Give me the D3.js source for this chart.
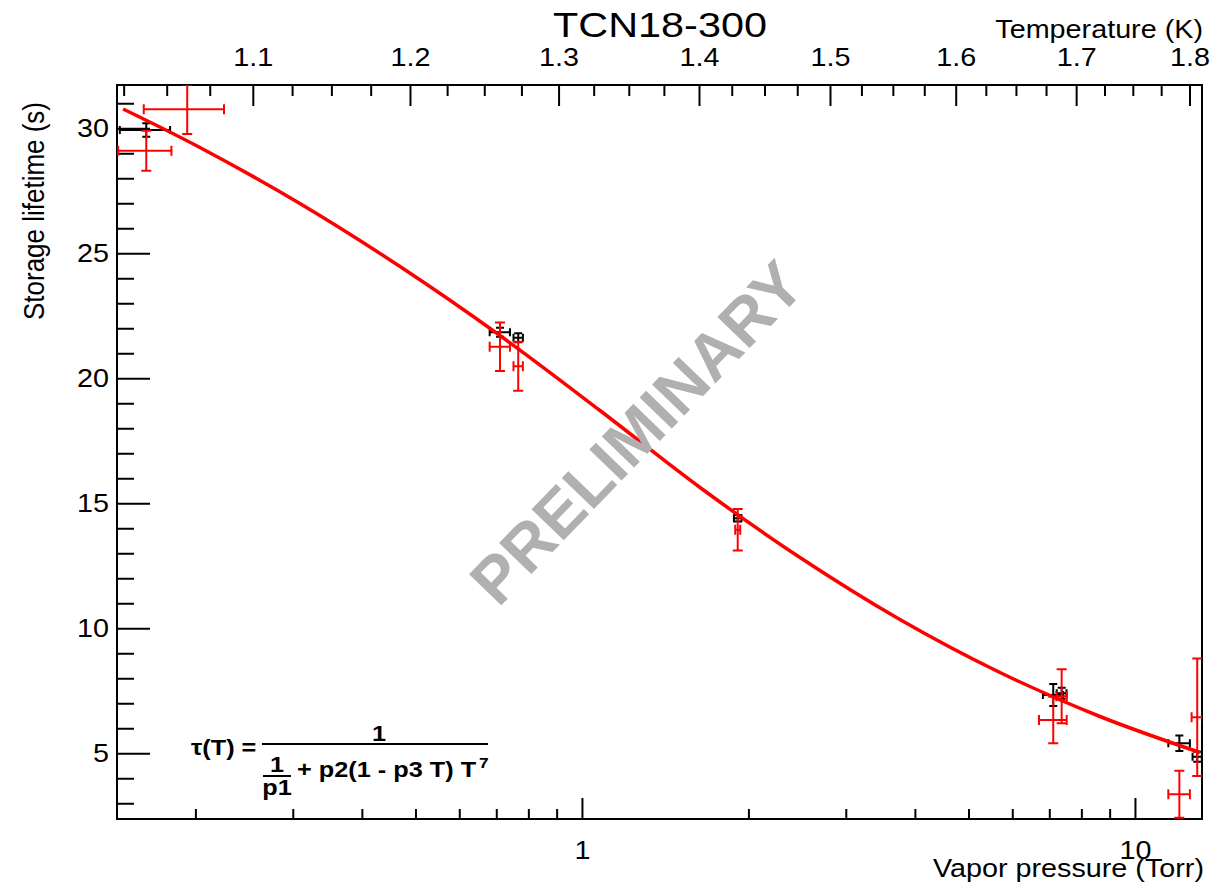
<!DOCTYPE html>
<html>
<head>
<meta charset="utf-8">
<script src="https://cdn.jsdelivr.net/npm/d3@7"></script>
<style>
body { margin: 0; background: #fff; }
text { font-family: "Liberation Sans", Arial, Helvetica, sans-serif; }
</style>
</head>
<body>
<svg id="chart" width="1232" height="885"></svg>
<script>
// constants
var margin = { top: 85, right: 30, bottom: 66, left: 117 },
    width = 1232 - margin.left - margin.right,
    height = 885 - margin.top - margin.bottom;
var stretch = 1.15;   // the text in the original is drawn a bit wide

// axis ticks
var pressureMajor = [1, 10];
var pressureMinor = [0.2, 0.3, 0.4, 0.5, 0.6, 0.7, 0.8, 0.9, 2, 3, 4, 5, 6, 7, 8, 9];
var tauMajor = [5, 10, 15, 20, 25, 30];
var tauMinor = [3, 4, 6, 7, 8, 9, 11, 12, 13, 14, 16, 17, 18, 19, 21, 22, 23, 24, 26, 27, 28, 29, 31];

// temperature axis: vapor pressure (Torr) read at each temperature tick
var tempTicks = [1.0, 1.1, 1.2, 1.3, 1.4, 1.5, 1.6, 1.7, 1.8];
var tempTorr = [0.124, 0.254, 0.4887, 0.9073, 1.628, 2.809, 4.741, 7.828, 12.55];
var tempMajor = [1.1, 1.2, 1.3, 1.4, 1.5, 1.6, 1.7, 1.8];
var tempMinor = [1.025, 1.05, 1.075, 1.125, 1.15, 1.175, 1.225, 1.25, 1.275,
                 1.325, 1.35, 1.375, 1.425, 1.45, 1.475, 1.525, 1.55, 1.575,
                 1.625, 1.65, 1.675, 1.725, 1.75, 1.775];

// black points
var blackP      = [0.163, 0.711, 0.767, 1.913, 7.116, 7.37, 12.03, 12.96];
var blackPErr   = [0.017, 0.03, 0.015, 0.03, 0.3, 0.15, 0.54, 0.25];
var blackTau    = [29.93, 21.84, 21.62, 14.40, 7.33, 7.40, 5.40, 4.86];
var blackTauErr = [0.27, 0.18, 0.18, 0.13, 0.44, 0.22, 0.31, 0.20];

// red points
var redP      = [0.163, 0.1933, 0.711, 0.767, 1.913, 7.116, 7.37, 12.03, 12.96];
var redPErr   = [0.018, 0.032, 0.03, 0.015, 0.02, 0.41, 0.16, 0.54, 0.3];
var redTau    = [29.10, 30.76, 21.26, 20.48, 13.94, 6.33, 7.28, 3.36, 6.44];
var redTauErr = [0.80, 0.99, 0.97, 0.98, 0.83, 0.93, 1.08, 0.94, 2.35];

// fit curve
var fitP   = [0.148, 0.2038, 0.309, 0.4688, 0.7108, 1.078, 1.635, 2.479, 3.758, 5.70, 8.644, 13.11];
var fitTau = [30.77, 29.23, 26.99, 24.47, 21.71, 18.71, 15.63, 12.83, 10.35, 8.23, 6.47, 5.03];

// scales
var x = d3.scaleLog()
    .domain([0.1443, 13.22])
    .range([0, width]);

var y = d3.scaleLinear()
    .domain([2.37, 31.73])
    .range([height, 0]);

var t = d3.scaleLinear()
    .domain(tempTicks)
    .range(tempTorr.map(function (p) { return x(p); }));

var svg = d3.select("#chart");
var g = svg.append("g")
    .attr("transform", "translate(" + margin.left + "," + margin.top + ")");

g.append("clipPath").attr("id", "clip")
    .append("rect").attr("width", width).attr("height", height);

// axes
function styleAxis(sel) {
    sel.select(".domain").remove();
    sel.selectAll("line").attr("stroke", "#000").attr("stroke-width", 2);
    sel.attr("font-size", 25);
    sel.selectAll("text")
        .attr("fill", "#000")
        .attr("transform", "scale(" + stretch + ",1)");
}

g.append("g")
    .attr("transform", "translate(0," + height + ")")
    .call(d3.axisBottom(x).tickValues(pressureMajor).tickSize(-21).tickPadding(22).tickFormat(d3.format("d")))
    .call(styleAxis);
g.append("g")
    .attr("transform", "translate(0," + height + ")")
    .call(d3.axisBottom(x).tickValues(pressureMinor).tickSize(-10).tickFormat(""))
    .call(styleAxis);

g.append("g")
    .call(d3.axisLeft(y).tickValues(tauMajor).tickSize(-33).tickPadding(7))
    .call(styleAxis);
g.append("g")
    .call(d3.axisLeft(y).tickValues(tauMinor).tickSize(-17).tickFormat(""))
    .call(styleAxis);

g.append("g")
    .call(d3.axisTop(t).tickValues(tempMajor).tickSize(-21).tickPadding(19).tickFormat(d3.format(".1f")))
    .call(styleAxis);
g.append("g")
    .call(d3.axisTop(t).tickValues(tempMinor).tickSize(-11).tickFormat(""))
    .call(styleAxis);

// frame
g.append("rect")
    .attr("width", width)
    .attr("height", height)
    .attr("fill", "none")
    .attr("stroke", "#000")
    .attr("stroke-width", 2);

// labels
function label(sel, px, py, txt, size, anchor) {
    return sel.append("text")
        .attr("transform", "translate(" + px + "," + py + ") scale(" + stretch + ",1)")
        .attr("text-anchor", anchor || "start")
        .style("font-size", size + "px")
        .text(txt);
}

label(svg, 660, 37, "TCN18-300", 36, "middle");
label(svg, 1203, 38, "Temperature (K)", 25, "end");
label(svg, 1204, 877, "Vapor pressure (Torr)", 25, "end");

svg.append("text")
    .attr("transform", "translate(44,211) scale(" + stretch + ",1) rotate(-90)")
    .attr("text-anchor", "middle")
    .style("font-size", "26px")
    .text("Storage lifetime (s)");

// watermark
svg.append("text")
    .attr("transform", "translate(636,432) rotate(-46)")
    .attr("text-anchor", "middle")
    .attr("dy", "0.36em")
    .attr("fill", "#b0b0b0")
    .style("font-size", "65px")
    .style("font-weight", "bold")
    .text("PRELIMINARY");

// points with error bars
var plot = g.append("g").attr("clip-path", "url(#clip)");

function drawPoints(P, PErr, tau, tauErr, color, cap) {
    var pts = plot.append("g")
        .attr("stroke", color)
        .attr("stroke-width", 2)
        .selectAll("g")
        .data(P)
        .enter()
        .append("g");

    pts.append("line")
        .attr("x1", function (d, i) { return x(P[i]); })
        .attr("x2", function (d, i) { return x(P[i]); })
        .attr("y1", function (d, i) { return y(tau[i] - tauErr[i]); })
        .attr("y2", function (d, i) { return y(tau[i] + tauErr[i]); });
    pts.append("line")
        .attr("x1", function (d, i) { return x(P[i] - PErr[i]); })
        .attr("x2", function (d, i) { return x(P[i] + PErr[i]); })
        .attr("y1", function (d, i) { return y(tau[i]); })
        .attr("y2", function (d, i) { return y(tau[i]); });

    // caps
    [-1, 1].forEach(function (s) {
        pts.append("line")
            .attr("x1", function (d, i) { return x(P[i]) - cap; })
            .attr("x2", function (d, i) { return x(P[i]) + cap; })
            .attr("y1", function (d, i) { return y(tau[i] + s * tauErr[i]); })
            .attr("y2", function (d, i) { return y(tau[i] + s * tauErr[i]); });
        pts.append("line")
            .attr("x1", function (d, i) { return x(P[i] + s * PErr[i]); })
            .attr("x2", function (d, i) { return x(P[i] + s * PErr[i]); })
            .attr("y1", function (d, i) { return y(tau[i]) - cap; })
            .attr("y2", function (d, i) { return y(tau[i]) + cap; });
    });
}

drawPoints(blackP, blackPErr, blackTau, blackTauErr, "#000", 4);
drawPoints(redP, redPErr, redTau, redTauErr, "#ff0000", 5);

// fit curve
var line = d3.line()
    .x(function (d, i) { return x(fitP[i]); })
    .y(function (d, i) { return y(fitTau[i]); })
    .curve(d3.curveCatmullRom);

plot.append("path")
    .datum(fitP)
    .attr("d", line)
    .attr("fill", "none")
    .attr("stroke", "#ff0000")
    .attr("stroke-width", 3.5);

// formula
var f = svg.append("g")
    .attr("font-weight", "bold")
    .attr("fill", "#000");

label(f, 191, 755, "\u03c4(T) =", 22);
f.append("line")
    .attr("x1", 262).attr("x2", 488).attr("y1", 744).attr("y2", 744)
    .attr("stroke", "#000").attr("stroke-width", 2);
label(f, 379, 741, "1", 22, "middle");
label(f, 277, 772, "1", 22, "middle");
f.append("line")
    .attr("x1", 263).attr("x2", 291).attr("y1", 776).attr("y2", 776)
    .attr("stroke", "#000").attr("stroke-width", 2);
label(f, 277, 795, "p1", 22, "middle");
label(f, 297, 777, "+ p2(1 - p3 T) T", 22);
label(f, 479, 768, "7", 15);
</script>
</body>
</html>
